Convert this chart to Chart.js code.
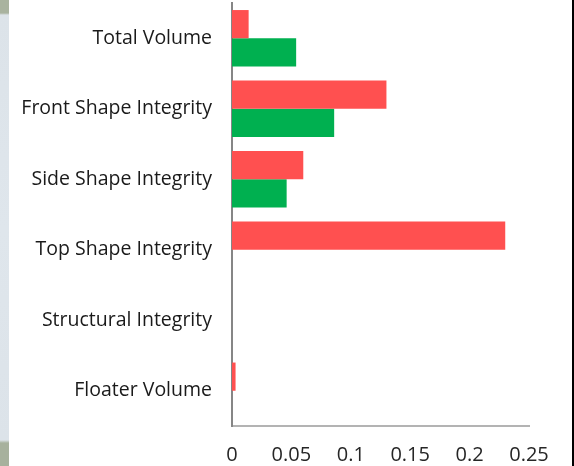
<!DOCTYPE html>
<html>
<head>
<meta charset="utf-8">
<script src="https://cdn.jsdelivr.net/npm/chart.js@4"></script>
<style>
  html, body { margin: 0; padding: 0; background: #ffffff; }
  #wrap { position: relative; width: 574px; height: 466px; overflow: hidden; }
  #strip { position: absolute; left: 0; top: 0; width: 9px; height: 466px;
    background: linear-gradient(to bottom, #a9b39f 0px, #a9b39f 13px, #dce3e9 15px, #dfe6ec 230px, #dce3e9 440px, #a7b19d 443px, #a7b19d 466px); }
  #edge { position: absolute; right: 0; top: 0; width: 2px; height: 466px; background: #000; }
  canvas { position: absolute; left: 0; top: 0; }
</style>
</head>
<body>
<div id="wrap">
  <div id="strip"></div>
  <canvas id="c" width="574" height="466"></canvas>
  <div id="edge"></div>
</div>
<script>
const categories = [
  'Total Volume',
  'Front Shape Integrity',
  'Side Shape Integrity',
  'Top Shape Integrity',
  'Structural Integrity',
  'Floater Volume'
];
const redValues   = [0.014, 0.130, 0.060, 0.230, 0, 0.003];
const greenValues = [0.054, 0.086, 0.046, 0, 0, 0];
const xTicks = [0, 0.05, 0.1, 0.15, 0.2, 0.25];

const FONT = '"Open Sans", Lato, sans-serif';

new Chart(document.getElementById('c'), {
  type: 'bar',
  data: {
    labels: categories,
    datasets: [
      { label: 'Series 1', data: redValues, backgroundColor: '#ff5050', borderWidth: 0 },
      { label: 'Series 2', data: greenValues, backgroundColor: '#00b050', borderWidth: 0 }
    ]
  },
  options: {
    indexAxis: 'y',
    responsive: false,
    animation: false,
    layout: { padding: { top: 3, right: 45, left: 0, bottom: 0 } },
    datasets: { bar: { categoryPercentage: 0.8, barPercentage: 1.0 } },
    plugins: { legend: { display: false }, tooltip: { enabled: false } },
    scales: {
      x: {
        min: 0, max: 0.25,
        afterBuildTicks: s => { s.ticks = xTicks.map(v => ({ value: v })); },
        afterFit: s => { s.height = 40; },
        grid: { display: false, drawTicks: false },
        border: { display: true, color: '#b3b3b3', width: 2 },
        ticks: {
          padding: 17,
          color: '#262626',
          font: { family: FONT, size: 20 },
          callback: v => String(v)
        }
      },
      y: {
        afterFit: s => { s.width = 232; s.paddingTop = 0; s.paddingBottom = 0; },
        grid: { display: false, drawTicks: false },
        border: { display: true, color: '#868686', width: 2 },
        ticks: {
          padding: 20,
          color: '#1a1a1a',
          font: { family: FONT, size: 19.5 }
        }
      }
    }
  }
});
</script>
</body>
</html>
